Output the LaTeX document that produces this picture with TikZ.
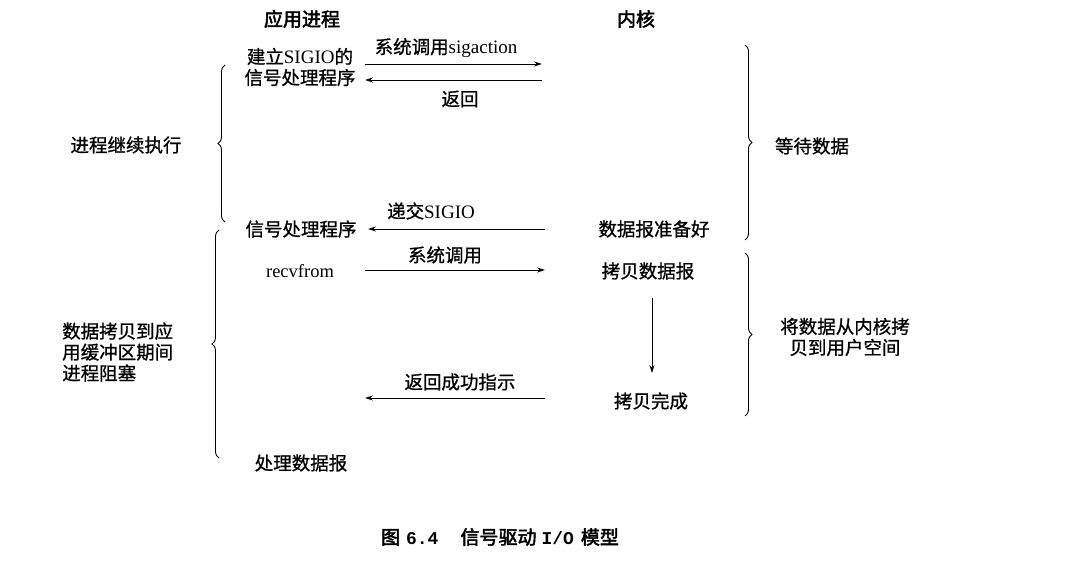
\documentclass[tikz,border=0pt]{standalone}
\usepackage{fontspec}
\setmainfont{Liberation Serif}
\setmonofont{Liberation Mono}
\newfontfamily\cjk{Noto Sans CJK SC}[FakeBold=0.9]
\newfontfamily\cjkb{Noto Sans CJK SC}[FakeBold=2.5]
\usetikzlibrary{arrows.meta,decorations.pathreplacing}
\begin{document}
\begin{tikzpicture}[x=1pt,y=-1pt,
  lbl/.style={inner sep=0pt,font=\fontsize{18.5}{21}\selectfont\cjk},
  hdr/.style={inner sep=0pt,font=\fontsize{19}{21}\selectfont\cjkb},
  arr/.style={line width=0.8pt,-{Stealth[length=8pt,width=5pt]}},
  brc/.style={line width=0.9pt,decorate,decoration={brace,amplitude=7pt}}]
\useasboundingbox[fill=white] (0,0) rectangle (1080,564);
% headers
\node[hdr] (happ) at (302,19) {应用进程};
\node[hdr] (hker) at (636,19) {内核};
% application column
\node[lbl,align=center] (setup) at (300,67) {建立{\rmfamily\fontsize{19}{21}\selectfont SIGIO}的\\信号处理程序};
\node[lbl] (sig2) at (301,229) {信号处理程序};
\node[lbl] (recv) at (300,271) {\rmfamily\fontsize{18.5}{21}\selectfont recvfrom};
\node[lbl] (proc) at (301,463) {处理数据报};
% kernel column
\node[lbl] (ready) at (654,229) {数据报准备好};
\node[lbl] (copy) at (648,271) {拷贝数据报};
\node[lbl] (done) at (651,401) {拷贝完成};
% arrow end points
\coordinate (a1s) at (365,64);  \coordinate (a1e) at (542,64);
\coordinate (a2s) at (542,80);  \coordinate (a2e) at (365,80);
\coordinate (a3s) at (545,229); \coordinate (a3e) at (368,229);
\coordinate (a4s) at (365,270); \coordinate (a4e) at (545,270);
\coordinate (v1) at (652,298);  \coordinate (v2) at (652,373);
\coordinate (a5s) at (545,398); \coordinate (a5e) at (365,398);
% arrows
\draw[arr] (a1s) -- (a1e);
\draw[arr] (a2s) -- (a2e);
\draw[arr] (a3s) -- (a3e);
\draw[arr] (a4s) -- (a4e);
\draw[arr] (v1) -- (v2);
\draw[arr] (a5s) -- (a5e);
% arrow labels
\node[lbl] (l1) at (446,48) {系统调用{\rmfamily\fontsize{19}{21}\selectfont sigaction}};
\node[lbl] (l2) at (460,99) {返回};
\node[lbl] (l3) at (431,211) {递交{\rmfamily\fontsize{19}{21}\selectfont SIGIO}};
\node[lbl] (l4) at (445,255) {系统调用};
\node[lbl] (l5) at (460,382) {返回成功指示};
% left braces
\coordinate (b1b) at (225,222); \coordinate (b1t) at (225,65);
\coordinate (b2b) at (219,458); \coordinate (b2t) at (219,230);
\draw[brc] (b1b) -- (b1t);
\draw[brc] (b2b) -- (b2t);
\node[lbl] (cont) at (126,145) {进程继续执行};
\node[lbl,align=left,anchor=west,font=\fontsize{18.5}{21}\selectfont\cjk] (block) at (62,352) {数据拷贝到应\\用缓冲区期间\\进程阻塞};
% right braces
\coordinate (b3t) at (745,45);  \coordinate (b3b) at (745,240);
\coordinate (b4t) at (745,253); \coordinate (b4b) at (745,416);
\draw[brc] (b3t) -- (b3b);
\draw[brc] (b4t) -- (b4b);
\node[lbl] (wait) at (812,146) {等待数据};
\node[lbl,align=center] (kcopy) at (845,337) {将数据从内核拷\\贝到用户空间};
% caption
\node[inner sep=0pt,font=\fontsize{19}{21}\selectfont\cjkb] (cap) at (500,537) {图\hspace{6pt}{\ttfamily\bfseries\fontsize{18}{21}\selectfont 6.4}\hspace{22pt}信号驱动\hspace{5pt}{\ttfamily\bfseries\fontsize{18}{21}\selectfont I/O}\hspace{7pt}模型};
\end{tikzpicture}
\end{document}
